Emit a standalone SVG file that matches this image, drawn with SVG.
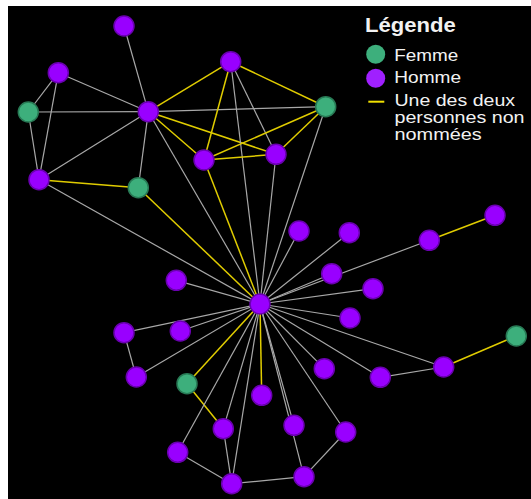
<svg xmlns="http://www.w3.org/2000/svg" width="531" height="499" viewBox="0 0 531 499">
<style>
.e{stroke:#a8a8a8;stroke-width:1.2;fill:none}
.y{stroke:#e0cc00;stroke-width:1.5;fill:none}
.m{fill:#9900ff;stroke:#6a00b0;stroke-width:1.5}
.f{fill:#3daf7c;stroke:#287a55;stroke-width:1.5}
.t{font-family:"Liberation Sans",Arial,sans-serif;fill:#f2f2f2;font-size:17px}
.s{font-family:"Liberation Sans",Arial,sans-serif;fill:#f2f2f2;font-size:16px}
.h{font-family:"Liberation Sans",Arial,sans-serif;fill:#f2f2f2;font-size:20px;font-weight:bold}
</style>
<rect x="0" y="0" width="531" height="499" fill="#ffffff"/>
<rect x="8" y="6" width="523" height="493" fill="#000000"/>
<g id="connectors">
<line class="e" x1="124" y1="26" x2="148.3" y2="111.7"/>
<line class="e" x1="58.3" y1="72.7" x2="148.3" y2="111.7"/>
<line class="e" x1="58.3" y1="72.7" x2="28.3" y2="112"/>
<line class="e" x1="58.3" y1="72.7" x2="39" y2="179.7"/>
<line class="e" x1="28.3" y1="112" x2="148.3" y2="111.7"/>
<line class="e" x1="28.3" y1="112" x2="39" y2="179.7"/>
<line class="e" x1="148.3" y1="111.7" x2="325.7" y2="106.7"/>
<line class="y" x1="148.3" y1="111.7" x2="230.7" y2="61.7"/>
<line class="y" x1="148.3" y1="111.7" x2="204" y2="160"/>
<line class="y" x1="148.3" y1="111.7" x2="276" y2="154.3"/>
<line class="e" x1="148.3" y1="111.7" x2="39" y2="179.7"/>
<line class="e" x1="148.3" y1="111.7" x2="138.3" y2="187.7"/>
<line class="e" x1="148.3" y1="111.7" x2="260" y2="304"/>
<line class="y" x1="230.7" y1="61.7" x2="325.7" y2="106.7"/>
<line class="y" x1="230.7" y1="61.7" x2="204" y2="160"/>
<line class="e" x1="230.7" y1="61.7" x2="276" y2="154.3"/>
<line class="e" x1="230.7" y1="61.7" x2="260" y2="304"/>
<line class="y" x1="325.7" y1="106.7" x2="204" y2="160"/>
<line class="y" x1="325.7" y1="106.7" x2="276" y2="154.3"/>
<line class="e" x1="325.7" y1="106.7" x2="260" y2="304"/>
<line class="y" x1="204" y1="160" x2="276" y2="154.3"/>
<line class="y" x1="204" y1="160" x2="260" y2="304"/>
<line class="e" x1="276" y1="154.3" x2="260" y2="304"/>
<line class="y" x1="39" y1="179.7" x2="138.3" y2="187.7"/>
<line class="e" x1="39" y1="179.7" x2="260" y2="304"/>
<line class="y" x1="138.3" y1="187.7" x2="260" y2="304"/>
<line class="e" x1="260" y1="304" x2="299" y2="231"/>
<line class="e" x1="260" y1="304" x2="349.3" y2="232.7"/>
<line class="e" x1="260" y1="304" x2="331.7" y2="273.7"/>
<line class="e" x1="260" y1="304" x2="429.3" y2="240.3"/>
<line class="y" x1="429.3" y1="240.3" x2="495" y2="215.3"/>
<line class="e" x1="260" y1="304" x2="176.3" y2="280.3"/>
<line class="e" x1="260" y1="304" x2="373" y2="288.7"/>
<line class="e" x1="260" y1="304" x2="350" y2="318"/>
<line class="e" x1="260" y1="304" x2="124" y2="332.7"/>
<line class="e" x1="260" y1="304" x2="180.3" y2="331"/>
<line class="e" x1="260" y1="304" x2="136.3" y2="377"/>
<line class="e" x1="124" y1="332.7" x2="136.3" y2="377"/>
<line class="y" x1="260" y1="304" x2="187" y2="383.7"/>
<line class="y" x1="187" y1="383.7" x2="223.3" y2="428.7"/>
<line class="e" x1="260" y1="304" x2="324.3" y2="368.7"/>
<line class="e" x1="260" y1="304" x2="380.3" y2="377.3"/>
<line class="e" x1="260" y1="304" x2="443.7" y2="367"/>
<line class="e" x1="380.3" y1="377.3" x2="443.7" y2="367"/>
<line class="y" x1="443.7" y1="367" x2="516.3" y2="336"/>
<line class="y" x1="260" y1="304" x2="261.7" y2="395.3"/>
<line class="e" x1="260" y1="304" x2="223.3" y2="428.7"/>
<line class="e" x1="260" y1="304" x2="294" y2="425.3"/>
<line class="e" x1="260" y1="304" x2="345.7" y2="432"/>
<line class="e" x1="260" y1="304" x2="177.7" y2="452.3"/>
<line class="e" x1="260" y1="304" x2="231.7" y2="483.7"/>
<line class="e" x1="260" y1="304" x2="304" y2="476.7"/>
<line class="e" x1="223.3" y1="428.7" x2="231.7" y2="483.7"/>
<line class="e" x1="177.7" y1="452.3" x2="231.7" y2="483.7"/>
<line class="e" x1="231.7" y1="483.7" x2="304" y2="476.7"/>
<line class="e" x1="304" y1="476.7" x2="345.7" y2="432"/>
</g>
<g id="nA"><circle class="m" cx="124" cy="26" r="10"/></g>
<g id="nB"><circle class="m" cx="58.3" cy="72.7" r="10"/></g>
<g id="nC"><circle class="f" cx="28.3" cy="112" r="10"/></g>
<g id="nD"><circle class="m" cx="148.3" cy="111.7" r="10"/></g>
<g id="nE"><circle class="m" cx="230.7" cy="61.7" r="10"/></g>
<g id="nF"><circle class="f" cx="325.7" cy="106.7" r="10"/></g>
<g id="nG"><circle class="m" cx="204" cy="160" r="10"/></g>
<g id="nH"><circle class="m" cx="276" cy="154.3" r="10"/></g>
<g id="nI"><circle class="m" cx="39" cy="179.7" r="10"/></g>
<g id="nJ"><circle class="f" cx="138.3" cy="187.7" r="10"/></g>
<g id="nK"><circle class="m" cx="260" cy="304" r="10"/></g>
<g id="nL"><circle class="m" cx="299" cy="231" r="10"/></g>
<g id="nM"><circle class="m" cx="349.3" cy="232.7" r="10"/></g>
<g id="nN"><circle class="m" cx="429.3" cy="240.3" r="10"/></g>
<g id="nO"><circle class="m" cx="495" cy="215.3" r="10"/></g>
<g id="nP"><circle class="m" cx="331.7" cy="273.7" r="10"/></g>
<g id="nQ"><circle class="m" cx="176.3" cy="280.3" r="10"/></g>
<g id="nR"><circle class="m" cx="373" cy="288.7" r="10"/></g>
<g id="nS"><circle class="m" cx="350" cy="318" r="10"/></g>
<g id="nT"><circle class="m" cx="124" cy="332.7" r="10"/></g>
<g id="nU"><circle class="m" cx="180.3" cy="331" r="10"/></g>
<g id="nV"><circle class="f" cx="516.3" cy="336" r="10"/></g>
<g id="nW"><circle class="m" cx="136.3" cy="377" r="10"/></g>
<g id="nX"><circle class="f" cx="187" cy="383.7" r="10"/></g>
<g id="nY"><circle class="m" cx="324.3" cy="368.7" r="10"/></g>
<g id="nZ"><circle class="m" cx="380.3" cy="377.3" r="10"/></g>
<g id="nAA"><circle class="m" cx="443.7" cy="367" r="10"/></g>
<g id="nAB"><circle class="m" cx="261.7" cy="395.3" r="10"/></g>
<g id="nAC"><circle class="m" cx="223.3" cy="428.7" r="10"/></g>
<g id="nAD"><circle class="m" cx="294" cy="425.3" r="10"/></g>
<g id="nAE"><circle class="m" cx="345.7" cy="432" r="10"/></g>
<g id="nAF"><circle class="m" cx="177.7" cy="452.3" r="10"/></g>
<g id="nAG"><circle class="m" cx="231.7" cy="483.7" r="10"/></g>
<g id="nAH"><circle class="m" cx="304" cy="476.7" r="10"/></g>
<g id="legend">
<text class="h" x="365" y="31.7" textLength="90.7" lengthAdjust="spacingAndGlyphs">Légende</text>
<circle cx="375.7" cy="54.3" r="9.5" fill="#3daf7c"/>
<text class="t" x="394.3" y="60.7" textLength="64" lengthAdjust="spacingAndGlyphs">Femme</text>
<circle cx="375.7" cy="78.3" r="9.5" fill="#a020ff"/>
<text class="t" x="394.3" y="82.6" textLength="66.7" lengthAdjust="spacingAndGlyphs">Homme</text>
<line x1="368.3" y1="101.7" x2="384.3" y2="101.7" stroke="#f0e000" stroke-width="2"/>
<text class="s" x="394.5" y="106.4" textLength="120.5" lengthAdjust="spacingAndGlyphs">Une des deux</text>
<text class="s" x="394.5" y="123.2" textLength="130" lengthAdjust="spacingAndGlyphs">personnes non</text>
<text class="s" x="394.5" y="140" textLength="87.3" lengthAdjust="spacingAndGlyphs">nommées</text>
</g>
</svg>
